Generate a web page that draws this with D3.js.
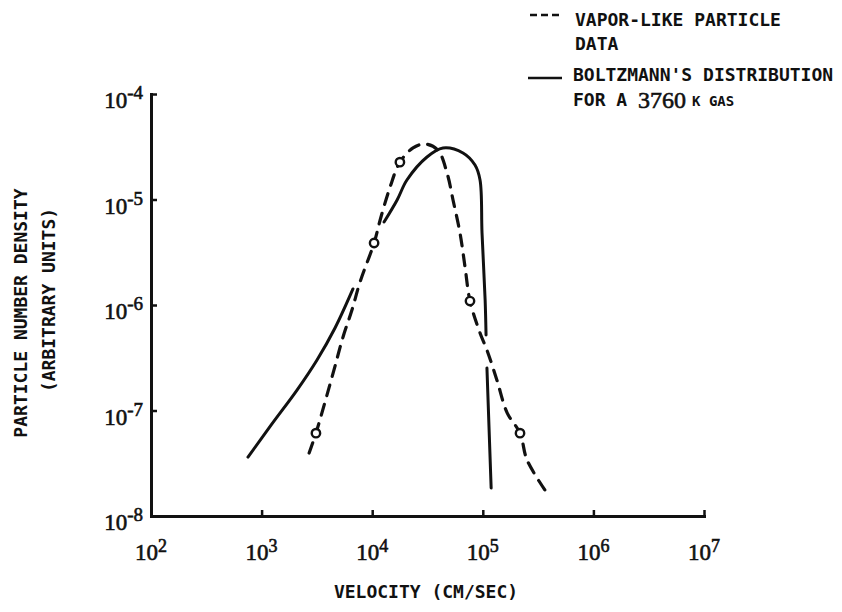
<!DOCTYPE html>
<html lang=en>
<head>
    <meta charset='utf-8'>
    <script src="https://d3js.org/d3.v7.min.js"></script>
    <style>
        body { margin: 0; background: #fff; }
        .lbl {
            font-family: 'DejaVu Sans Mono', monospace;
            font-weight: bold;
            font-size: 18px;
            fill: #111;
        }
        .num {
            font-family: 'Liberation Serif', serif;
            fill: #111;
            stroke: #111;
            stroke-width: 0.6px;
        }
    </style>
</head>
<body>
<div id="chart"></div>
<script>
    // vapor-like particle data (dashed curve), velocity in cm/sec
    var vaporVelocity = [2690, 3100, 4430, 5450, 6560, 7760, 10400, 11800, 14500, 17800, 23400, 30000,
        39300, 47500, 53800, 62200, 69100, 76600, 94400, 109000, 134000, 166000, 217000, 251000, 365000];
    var vaporDensity = [3.95e-8, 6.1e-8, 2.26e-7, 4.98e-7, 8.97e-7, 1.65e-6, 3.87e-6, 6.4e-6, 1.31e-5, 2.26e-5, 3.08e-5, 3.36e-5,
        2.94e-5, 1.78e-5, 9.9e-6, 4.81e-6, 2.29e-6, 1.09e-6, 5.43e-7, 3.74e-7, 1.95e-7, 9.5e-8, 6.1e-8, 3.4e-8, 1.76e-8];

    // open circles on the dashed curve
    var markVelocity = [3100, 10400, 17800, 76600, 217000];
    var markDensity = [6.1e-8, 3.87e-6, 2.26e-5, 1.09e-6, 6.1e-8];

    // Boltzmann's distribution for a 3760 K gas (solid curve, drawn in three pieces)
    var boltzLowVelocity = [753, 1240, 2090, 3170, 4610, 6700];
    var boltzLowDensity = [3.62e-8, 7.45e-8, 1.56e-7, 3.01e-7, 6.05e-7, 1.42e-6];
    var boltzPeakVelocity = [12800, 16800, 20600, 31300, 43600, 66200, 85000, 94400, 98400, 105000, 107000];
    var boltzPeakDensity = [6.12e-6, 9.9e-6, 1.53e-5, 2.53e-5, 3.08e-5, 2.76e-5, 2.12e-5, 1.53e-5, 4.81e-6, 1.11e-6, 5.2e-7];
    var boltzTailVelocity = [109000, 119000];
    var boltzTailDensity = [2.53e-7, 1.84e-8];

    // tick exponents
    var xTickExp = [2, 3, 4, 5, 6, 7];
    var yTickExp = [-4, -5, -6, -7, -8];

    var W = 842, H = 612;
    var svg = d3.select("#chart").append("svg")
        .attr("width", W)
        .attr("height", H);

    var x = d3.scaleLog().domain([1e2, 1e7]).range([151, 704]);
    var y = d3.scaleLog().domain([1e-8, 1e-4]).range([516, 94]);

    // axes (ticks point inward)
    var xAxis = svg.append("g")
        .attr("transform", "translate(0,516)")
        .call(d3.axisBottom(x)
            .tickValues(xTickExp.slice(1).map(function(e) { return Math.pow(10, e); }))
            .tickSizeInner(-6).tickSizeOuter(0).tickFormat(""));
    var yAxis = svg.append("g")
        .attr("transform", "translate(151,0)")
        .call(d3.axisLeft(y)
            .tickValues(yTickExp.slice(0, 4).map(function(e) { return Math.pow(10, e); }))
            .tickSizeInner(-6).tickSizeOuter(0).tickFormat(""));
    svg.selectAll(".domain").attr("stroke", "#111").attr("stroke-width", 3).attr("stroke-linecap", "square");
    svg.selectAll(".tick line").attr("stroke", "#111").attr("stroke-width", 2.5);

    // x tick labels: 10^n
    xTickExp.forEach(function(e) {
        var t = svg.append("text").attr("class", "num")
            .attr("x", x(Math.pow(10, e)))
            .attr("y", 560)
            .attr("text-anchor", "middle");
        t.append("tspan").style("font-size", "23px").text("10");
        t.append("tspan").style("font-size", "18px").attr("dy", -8).text(e);
    });

    // y tick labels: 10^-n
    yTickExp.forEach(function(e) {
        var t = svg.append("text").attr("class", "num")
            .attr("x", 143)
            .attr("y", y(Math.pow(10, e)) + 14)
            .attr("text-anchor", "end");
        t.append("tspan").style("font-size", "23px").text("10");
        t.append("tspan").style("font-size", "19px").attr("dy", -9).text("-" + Math.abs(e));
    });

    // axis titles
    svg.append("text").attr("class", "lbl")
        .attr("x", 426).attr("y", 598)
        .attr("text-anchor", "middle")
        .text("VELOCITY (CM/SEC)");
    svg.append("text").attr("class", "lbl")
        .attr("transform", "translate(27,313) rotate(-90)")
        .attr("text-anchor", "middle")
        .text("PARTICLE NUMBER DENSITY");
    svg.append("text").attr("class", "lbl")
        .attr("transform", "translate(55,300) rotate(-90)")
        .attr("text-anchor", "middle")
        .text("(ARBITRARY UNITS)");

    var line = d3.line()
        .x(function(d) { return x(d[0]); })
        .y(function(d) { return y(d[1]); })
        .curve(d3.curveCatmullRom.alpha(0.5));

    // solid Boltzmann pieces
    [[boltzLowVelocity, boltzLowDensity], [boltzPeakVelocity, boltzPeakDensity], [boltzTailVelocity, boltzTailDensity]]
        .forEach(function(s) {
            svg.append("path")
                .datum(d3.zip(s[0], s[1]))
                .attr("d", line)
                .attr("fill", "none")
                .attr("stroke", "#111")
                .attr("stroke-width", 3)
                .attr("stroke-linecap", "round");
        });

    // dashed vapor curve
    svg.append("path")
        .datum(d3.zip(vaporVelocity, vaporDensity))
        .attr("d", line)
        .attr("fill", "none")
        .attr("stroke", "#111")
        .attr("stroke-width", 3.2)
        .attr("stroke-linecap", "round")
        .attr("stroke-dasharray", "11,9");

    // circles
    svg.selectAll("circle.mark")
        .data(d3.zip(markVelocity, markDensity))
        .enter().append("circle")
        .attr("class", "mark")
        .attr("cx", function(d) { return x(d[0]); })
        .attr("cy", function(d) { return y(d[1]); })
        .attr("r", 4.2)
        .attr("fill", "#fff")
        .attr("stroke", "#111")
        .attr("stroke-width", 2.4);

    // legend
    svg.append("line")
        .attr("x1", 530).attr("x2", 560).attr("y1", 15).attr("y2", 15)
        .attr("stroke", "#111").attr("stroke-width", 2.5)
        .attr("stroke-dasharray", "7,4");
    svg.append("line")
        .attr("x1", 528).attr("x2", 562).attr("y1", 78).attr("y2", 78)
        .attr("stroke", "#111").attr("stroke-width", 2.5);

    svg.append("text").attr("class", "lbl").attr("x", 575).attr("y", 26).text("VAPOR-LIKE PARTICLE");
    svg.append("text").attr("class", "lbl").attr("x", 575).attr("y", 50).text("DATA");
    svg.append("text").attr("class", "lbl").attr("x", 573).attr("y", 81).text("BOLTZMANN'S DISTRIBUTION");
    var gas = svg.append("text").attr("class", "lbl").attr("x", 573).attr("y", 106);
    gas.append("tspan").text("FOR A ");
    gas.append("tspan").attr("class", "num").style("font-size", "24px").style("font-weight", "normal").attr("dy", 2).text("3760");
    gas.append("tspan").style("font-size", "14px").attr("dy", -2).attr("dx", 6).text("K GAS");
</script>
</body>
</html>
